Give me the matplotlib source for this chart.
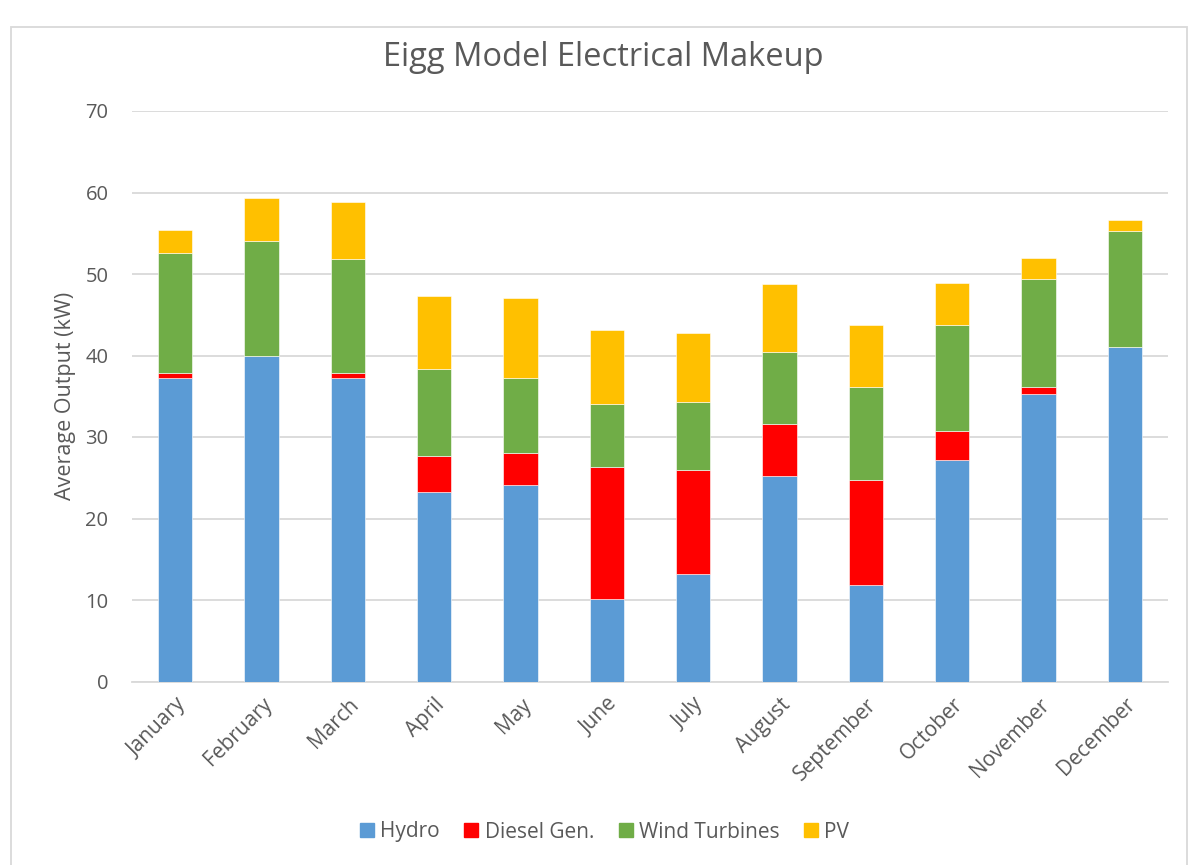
import matplotlib
matplotlib.use("Agg")
import matplotlib.pyplot as plt
import numpy as np
from matplotlib.patches import Rectangle
from matplotlib.lines import Line2D

months = ["January", "February", "March", "April", "May", "June", "July",
          "August", "September", "October", "November", "December"]
hydro = [37.2, 40.0, 37.2, 23.3, 24.1, 10.1, 13.2, 25.2, 11.9, 27.2, 35.3, 41.1]
diesel = [0.6, 0.0, 0.7, 4.4, 3.9, 16.2, 12.7, 6.4, 12.8, 3.5, 0.8, 0.0]
wind = [14.8, 14.1, 14.0, 10.7, 9.2, 7.7, 8.4, 8.8, 11.4, 13.1, 13.3, 14.2]
pv = [2.8, 5.2, 6.9, 8.85, 9.9, 9.1, 8.4, 8.4, 7.6, 5.1, 2.55, 1.3]
series_names = ["Hydro", "Diesel Gen.", "Wind Turbines", "PV"]
colors = ["#5B9BD5", "#FF0000", "#70AD47", "#FFC000"]
yticks = [0, 10, 20, 30, 40, 50, 60, 70]

plt.rcParams['font.family'] = ['Open Sans', 'DejaVu Sans']
txt = "#595959"

W, H = 1190, 865
fig = plt.figure(figsize=(W / 100, H / 100), dpi=100)
ax = fig.add_axes([132 / W, (H - 681.5) / H, 1036 / W, 570.5 / H])

x = np.arange(len(months))
bottom = np.zeros(len(months))
handles = []
for name, vals, c in zip(series_names, [hydro, diesel, wind, pv], colors):
    v = np.array(vals)
    ax.bar(x, v, width=0.4, bottom=bottom, color=c, edgecolor="white",
           linewidth=0.4, zorder=3, label=name)
    bottom += v
    handles.append(Line2D([], [], marker="s", linestyle="none", markersize=10.5,
                          markerfacecolor=c, markeredgecolor=c))

ax.set_xlim(-0.5, len(months) - 0.5)
ax.set_ylim(0, 70)
ax.set_yticks(yticks)
ax.yaxis.grid(True, color="#D9D9D9", linewidth=1.3, zorder=0)
for s in ["top", "right", "left"]:
    ax.spines[s].set_visible(False)
ax.spines["bottom"].set_color("#D9D9D9")
ax.spines["bottom"].set_linewidth(1.3)
ax.tick_params(axis="both", length=0, colors=txt)
ax.tick_params(axis="y", pad=17, labelsize=14.5)
ax.set_xticks(x)
ax.set_xticklabels(months, rotation=45, ha="right", rotation_mode="anchor")
ax.tick_params(axis="x", pad=9, labelsize=15)
ax.set_ylabel("Average Output (kW)", color=txt, fontsize=15.5, labelpad=7)

fig.text(603 / W, 1 - 57 / H, "Eigg Model Electrical Makeup", ha="center",
         va="center", fontsize=23.5, color=txt)

fig.legend(handles, series_names, loc="center", bbox_to_anchor=(603 / W, 1 - 832 / H),
           ncol=4, frameon=False, fontsize=15, labelcolor=txt, handletextpad=0.15,
           columnspacing=1.0, handlelength=1.0)

# outer chart border
fig.add_artist(Rectangle((11 / W, -0.05), (1187 - 11) / W, 1.05 - 27 / H,
                         transform=fig.transFigure, fill=False,
                         edgecolor="#D9D9D9", linewidth=1.3))

fig.savefig("out.png", dpi=100)
